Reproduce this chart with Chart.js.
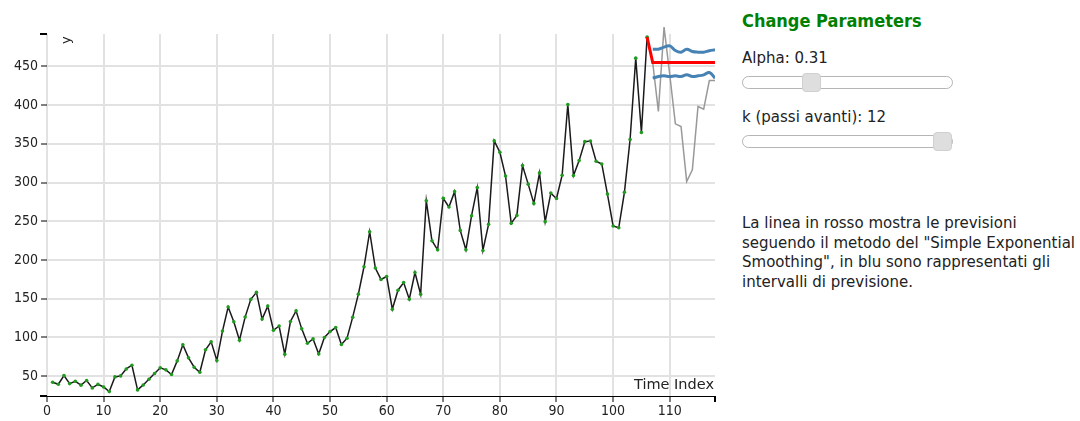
<!DOCTYPE html>
<html>
<head>
<meta charset="utf-8">
<script src="https://cdn.jsdelivr.net/npm/chart.js@4"></script>
<style>
  body { margin: 0; background: #fff; font-family: "DejaVu Sans", sans-serif; color: #222; }
  #wrap { position: absolute; left: 0; top: 0; width: 720px; height: 421px; }
  #yLabel { position: absolute; left: 59px; top: 44px; font-size: 13px; transform: rotate(-90deg); transform-origin: left top; line-height: 1; }
  #xLabel { position: absolute; right: 6px; top: 377px; font-size: 14.5px; line-height: 1; }
  #panel { position: absolute; left: 742px; top: 0; width: 338px; }
  h3 { position: absolute; left: 0; top: 10px; margin: 0; font-size: 18px; color: #008000; white-space: nowrap;
       font-family: "DejaVu Sans Condensed", "DejaVu Sans", sans-serif; }
  .lbl { position: absolute; left: 0; font-size: 15px; white-space: nowrap; line-height: 1; }
  input[type=range] { -webkit-appearance: none; appearance: none; position: absolute; left: 0; width: 211px; height: 13px; margin: 0;
    background: #fff; border: 1px solid #b5b5b5; border-radius: 7px; box-sizing: border-box; }
  input[type=range]::-webkit-slider-thumb { -webkit-appearance: none; width: 19px; height: 19px; border-radius: 4px;
    background: #dedede; border: 1px solid #d0d0d0; box-sizing: border-box; }
  #desc { position: absolute; left: 0; top: 214px; font-size: 15px; line-height: 19.7px; white-space: nowrap; }
</style>
</head>
<body>
<div id="wrap">
  <canvas id="chart" width="720" height="421"></canvas>
  <div id="yLabel">y</div>
  <div id="xLabel">Time Index</div>
</div>
<div id="panel">
  <h3>Change Parameters</h3>
  <div class="lbl" style="top:51px">Alpha: 0.31</div>
  <input type="range" min="0" max="1" step="0.01" value="0.31" style="top:76px">
  <div class="lbl" style="top:110px">k (passi avanti): 12</div>
  <input type="range" min="1" max="12" step="1" value="12" style="top:135px">
  <div id="desc">La linea in rosso mostra le previsioni<br>seguendo il metodo del "Simple Exponential<br>Smoothing", in blu sono rappresentati gli<br>intervalli di previsione.</div>
</div>
<script>
// observed series, time index 1..106
const startIndex = 1;
const observed = [
  41.8, 39.2, 50.4, 40, 43, 38, 44, 34.5, 39, 35.7,
  29.7, 48.7, 50, 59, 63.8, 31.9, 38.3, 45.7, 53, 60.4,
  57.8, 51.7, 69.4, 90.2, 73.3, 61.2, 54.7, 83.7, 94, 69.9,
  107.9, 139, 120, 96.2, 126, 148.9, 158, 123.4, 140.2, 109,
  114.5, 78, 120.3, 134.1, 110.8, 92.2, 97.8, 78.4, 99.6, 107.3,
  112.5, 90.5, 98.7, 125.9, 155.7, 191.1, 236.4, 189.4, 174.7, 178.5,
  136.2, 160.8, 170.7, 149.1, 183.7, 155.6, 276.5, 224.7, 213, 279.5,
  268.3, 288.2, 238.1, 213, 257.1, 293.4, 212.2, 245.9, 353.8, 339.1,
  308.4, 247.2, 257.5, 321.9, 297.9, 273, 312.4, 249.4, 286.3, 279.4,
  309.4, 400.9, 309, 328.3, 352.8, 353.6, 327.5, 324, 285, 243.8,
  241.5, 287.3, 355.6, 460.8, 364.7, 487.9
];

// held-out values, time index 106..118
const testIndex = [106, 107, 108, 109, 110, 111, 112, 113, 114, 115, 116, 117, 118];
const testValues = [487.9, 455, 391.8, 500.9, 440, 375.9, 372.4, 301.3, 316.4, 398.3, 394.8, 431.9, 431.9];

// SES forecast (k = 12) and prediction intervals
const forecastIndex = [106, 107, 108, 109, 110, 111, 112, 113, 114, 115, 116, 117, 118];
const forecast = [487.9, 455.2, 455.2, 455.2, 455.2, 455.2, 455.2, 455.2, 455.2, 455.2, 455.2, 455.2, 455.2];
const intervalIndex = [107, 108, 109, 110, 111, 112, 113, 114, 115, 116, 117, 118];
const upper = [472.4, 472.4, 475, 476.7, 470.7, 468.5, 472.4, 469.4, 468.5, 468.5, 470.3, 471.6];
const lower = [434.9, 437, 437.9, 437, 437.9, 437, 439.2, 437, 437.9, 439.2, 442.2, 434.9];

const xTicks = { min: 0, max: 118, step: 10 };
const yTicks = { min: 24, max: 492, step: 50 };

function toPoints(xs, ys) {
  return ys.map((y, i) => ({ x: xs[i], y: y }));
}

const obsPoints = observed.map((v, i) => ({ x: startIndex + i, y: v }));

// outer ticks at the ends of the axes (d3 style)
const outerTicks = {
  id: 'outerTicks',
  afterDraw(chart) {
    const { ctx, chartArea } = chart;
    ctx.save();
    ctx.strokeStyle = '#000';
    ctx.lineWidth = 2;
    ctx.beginPath();
    ctx.moveTo(chartArea.left - 7, chartArea.top);
    ctx.lineTo(chartArea.left, chartArea.top);
    ctx.moveTo(chartArea.left - 7, chartArea.bottom);
    ctx.lineTo(chartArea.left, chartArea.bottom);
    ctx.moveTo(chartArea.right, chartArea.bottom);
    ctx.lineTo(chartArea.right, chartArea.bottom + 6);
    ctx.stroke();
    ctx.restore();
  }
};

Chart.defaults.font.family = '"DejaVu Sans Condensed", "DejaVu Sans", sans-serif';
Chart.defaults.font.size = 14;
Chart.defaults.color = '#222';

new Chart(document.getElementById('chart').getContext('2d'), {
  type: 'line',
  data: {
    datasets: [
      {
        label: 'upper',
        data: toPoints(intervalIndex, upper),
        borderColor: '#4682b4',
        borderWidth: 3,
        pointRadius: 0,
        tension: 0.4,
        order: 1
      },
      {
        label: 'lower',
        data: toPoints(intervalIndex, lower),
        borderColor: '#4682b4',
        borderWidth: 3,
        pointRadius: 0,
        tension: 0.4,
        order: 1
      },
      {
        label: 'forecast',
        data: toPoints(forecastIndex, forecast),
        borderColor: '#ff0000',
        borderWidth: 3,
        pointRadius: 0,
        order: 2
      },
      {
        label: 'observed',
        data: obsPoints,
        borderColor: '#1a1a1a',
        borderWidth: 1.5,
        pointRadius: 1.8,
        pointBorderWidth: 0,
        pointBackgroundColor: '#1f9a1f',
        order: 3
      },
      {
        label: 'test',
        data: toPoints(testIndex, testValues),
        borderColor: '#999',
        borderWidth: 1.5,
        pointRadius: 0,
        clip: false,
        order: 4
      }
    ]
  },
  options: {
    responsive: false,
    animation: false,
    layout: { padding: { top: 34, right: 5, left: 0, bottom: 0 } },
    plugins: { legend: { display: false }, tooltip: { enabled: false } },
    scales: {
      x: {
        type: 'linear',
        min: xTicks.min,
        max: xTicks.max,
        afterFit: (s) => { s.height = 25; },
        border: { display: true, color: '#000', width: 1 },
        grid: { color: '#e2e2e2', lineWidth: 2, tickColor: '#000', tickLength: 6, tickWidth: 1 },
        ticks: { stepSize: xTicks.step, includeBounds: false, padding: 1, maxRotation: 0, autoSkip: false }
      },
      y: {
        min: yTicks.min,
        max: yTicks.max,
        afterFit: (s) => { s.width = 47; },
        border: { display: false },
        grid: { color: '#e2e2e2', lineWidth: 2, tickColor: '#000', tickLength: 6, tickWidth: 1 },
        ticks: { stepSize: yTicks.step, includeBounds: false, padding: 3 }
      }
    }
  },
  plugins: [outerTicks]
});
</script>
</body>
</html>
